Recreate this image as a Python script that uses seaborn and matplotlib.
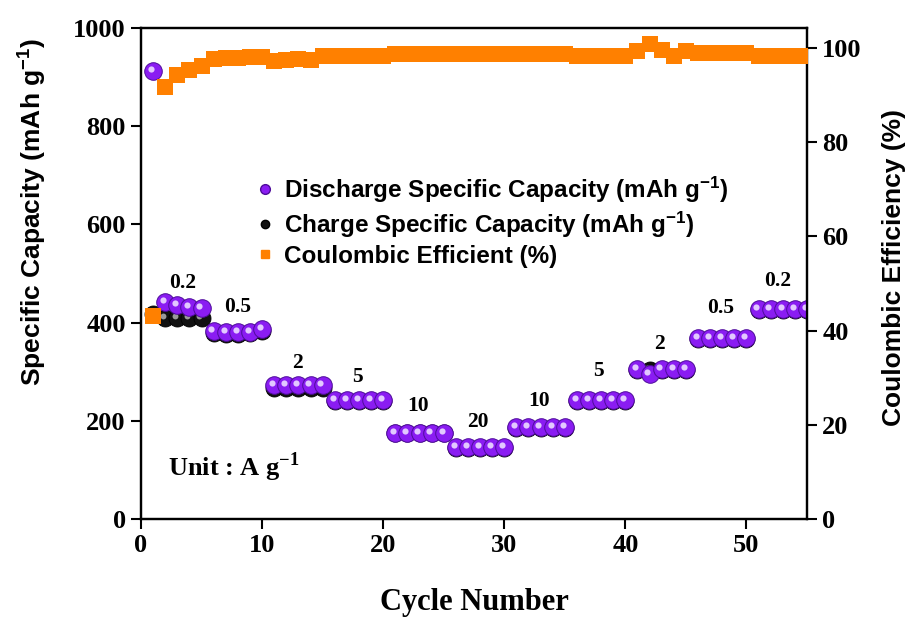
import numpy as np
import pandas as pd
import matplotlib
matplotlib.use("Agg")
import matplotlib.pyplot as plt
import matplotlib.transforms as mtransforms
from matplotlib.lines import Line2D
import seaborn as sns

# ---- data -------------------------------------------------------------
cycles = list(range(1, 56))

discharge = [912, 442, 436, 432, 430,
             382, 380, 380, 381, 386,
             273, 273, 273, 273, 273,
             242, 242, 242, 242, 242,
             176, 176, 176, 176, 176,
             146, 146, 146, 146, 146,
             187, 187, 187, 187, 187,
             242, 242, 242, 242, 242,
             306, 296, 305, 306, 306,
             368, 368, 368, 368, 368,
             428, 428, 428, 428, 428]

charge = [418, 410, 410, 410, 410,
          378, 377, 377, 378, 382,
          266, 267, 267, 267, 267,
          240, 240, 240, 240, 240,
          175, 175, 175, 175, 175,
          145, 145, 145, 145, 145,
          186, 186, 186, 186, 186,
          240, 240, 240, 240, 240,
          304, 303, 303, 304, 304,
          366, 366, 366, 366, 366,
          426, 426, 426, 426, 426]

efficiency = [43.0, 91.7, 94.3, 95.3, 96.2,
              97.6, 97.8, 97.9, 98.0, 98.1,
              97.2, 97.5, 97.7, 97.5, 98.2,
              98.3, 98.3, 98.3, 98.3, 98.3,
              98.7, 98.7, 98.7, 98.7, 98.7,
              98.7, 98.7, 98.7, 98.7, 98.7,
              98.7, 98.7, 98.7, 98.7, 98.7,
              98.3, 98.3, 98.3, 98.3, 98.3,
              99.3, 100.8, 99.5, 98.3, 99.3,
              98.9, 98.9, 98.9, 98.8, 98.8,
              98.3, 98.3, 98.3, 98.3, 98.3]

rate_labels = ["0.2", "0.5", "2", "5", "10", "20", "10", "5", "2", "0.5", "0.2"]
rate_x = [3.4, 8.0, 12.9, 17.9, 22.9, 27.8, 32.9, 37.8, 42.8, 47.9, 52.6]
rate_y = [480, 432, 318, 290, 230, 198, 240, 301, 356, 430, 485]

df = pd.DataFrame({"cycle": cycles, "discharge": discharge,
                   "charge": charge, "efficiency": efficiency})

# ---- style ------------------------------------------------------------
sns.set_style("ticks")
plt.rcParams["font.family"] = ["Liberation Serif", "DejaVu Serif"]
plt.rcParams["font.weight"] = "bold"
plt.rcParams["text.color"] = "black"
plt.rcParams["axes.labelcolor"] = "black"
plt.rcParams["xtick.color"] = "black"
plt.rcParams["ytick.color"] = "black"
plt.rcParams["axes.edgecolor"] = "black"
plt.rcParams["mathtext.fontset"] = "custom"
plt.rcParams["mathtext.rm"] = "Liberation Sans:bold"
plt.rcParams["mathtext.it"] = "Liberation Sans:bold"
plt.rcParams["mathtext.bf"] = "Liberation Sans:bold"

PURPLE = "#8A1CF2"
PURPLE_EDGE = "#4E0C9A"
ORANGE = "#FF8000"

fig = plt.figure(figsize=(9.17, 6.21), dpi=100)
ax = fig.add_axes([141 / 917, 1 - 519 / 621, (807 - 141) / 917, (519 - 28) / 621])
ax2 = ax.twinx()

# highlight offset for the shaded-sphere look
hl = mtransforms.ScaledTranslation(-2.2 / 100, 2.0 / 100, fig.dpi_scale_trans)

# charge (black spheres), drawn first so discharge sits on top
sns.scatterplot(data=df, x="cycle", y="charge", ax=ax, s=150, color="#111111",
                edgecolor="#000000", linewidth=0.6, zorder=3, legend=False)
sns.scatterplot(data=df, x="cycle", y="charge", ax=ax, s=18, color="#9a9a9a",
                linewidth=0, zorder=3.1, legend=False, transform=ax.transData + hl)

# discharge (purple spheres)
sns.scatterplot(data=df, x="cycle", y="discharge", ax=ax, s=160, color=PURPLE,
                edgecolor=PURPLE_EDGE, linewidth=0.7, zorder=4, legend=False)
sns.scatterplot(data=df, x="cycle", y="discharge", ax=ax, s=20, color="#E2C8FF",
                linewidth=0, zorder=4.1, legend=False, transform=ax.transData + hl)

# coulombic efficiency (orange squares) on the right axis
sns.scatterplot(data=df, x="cycle", y="efficiency", ax=ax2, s=135, marker="s",
                color=ORANGE, linewidth=0, zorder=5, legend=False)

# current-density annotations
for lab, xx, yy in zip(rate_labels, rate_x, rate_y):
    ax.text(xx, yy, lab, ha="center", va="center", fontsize=15.5,
            fontweight="bold", family="Liberation Serif", zorder=6)

ax.text(0.04, 0.105, "Unit : A g$^{\\mathregular{-1}}$", transform=ax.transAxes,
        fontsize=19, fontweight="bold", family="Liberation Serif", va="center")

# ---- axes -------------------------------------------------------------
ax.set_xlim(0, 55)
ax.set_ylim(0, 1000)
ax2.set_ylim(0, 104.2)
ax.set_xticks([0, 10, 20, 30, 40, 50])
ax.set_yticks([0, 200, 400, 600, 800, 1000])
ax2.set_yticks([0, 20, 40, 60, 80, 100])

for a in (ax, ax2):
    for sp in a.spines.values():
        sp.set_linewidth(1.6)
        sp.set_color("black")
    a.tick_params(axis="both", direction="out", length=7.5, width=1.5,
                  labelsize=19, pad=3.5, colors="black")
    for lab in a.get_xticklabels() + a.get_yticklabels():
        lab.set_fontweight("bold")
        lab.set_family("Liberation Serif")

ax.set_xlabel("Cycle Number", fontsize=22, fontweight="bold",
              family="Liberation Serif", labelpad=22)
ax.set_ylabel("Specific Capacity (mAh g$^{\\mathregular{-1}}$)", fontsize=19,
              fontweight="bold", family="Liberation Sans")
ax.yaxis.set_label_coords(-0.138, 0.625)
ax2.set_ylabel("Coulombic Efficiency (%)", fontsize=19, fontweight="bold",
               family="Liberation Sans")
ax2.yaxis.set_label_coords(1.112, 0.513)

# legend
handles = [
    Line2D([], [], marker="o", ls="", markersize=7, markerfacecolor=PURPLE,
           markeredgecolor=PURPLE_EDGE),
    Line2D([], [], marker="o", ls="", markersize=6, markerfacecolor="#111111",
           markeredgecolor="#000000"),
    Line2D([], [], marker="s", ls="", markersize=6, markerfacecolor=ORANGE,
           markeredgecolor=ORANGE),
]
labels = ["Discharge Specific Capacity (mAh g$^{\\mathregular{-1}}$)",
          "Charge Specific Capacity (mAh g$^{\\mathregular{-1}}$)",
          "Coulombic Efficient (%)"]
leg = ax2.legend(handles, labels, loc="upper left",
                 bbox_to_anchor=(248 / 917, 1 - 165 / 621),
                 bbox_transform=fig.transFigure, frameon=False,
                 prop={"family": "Liberation Sans", "weight": "bold", "size": 17.5},
                 handlelength=0.6, handletextpad=0.5, labelspacing=0.2,
                 borderaxespad=0)
leg.set_zorder(10)

fig.savefig("out.png", dpi=100)
